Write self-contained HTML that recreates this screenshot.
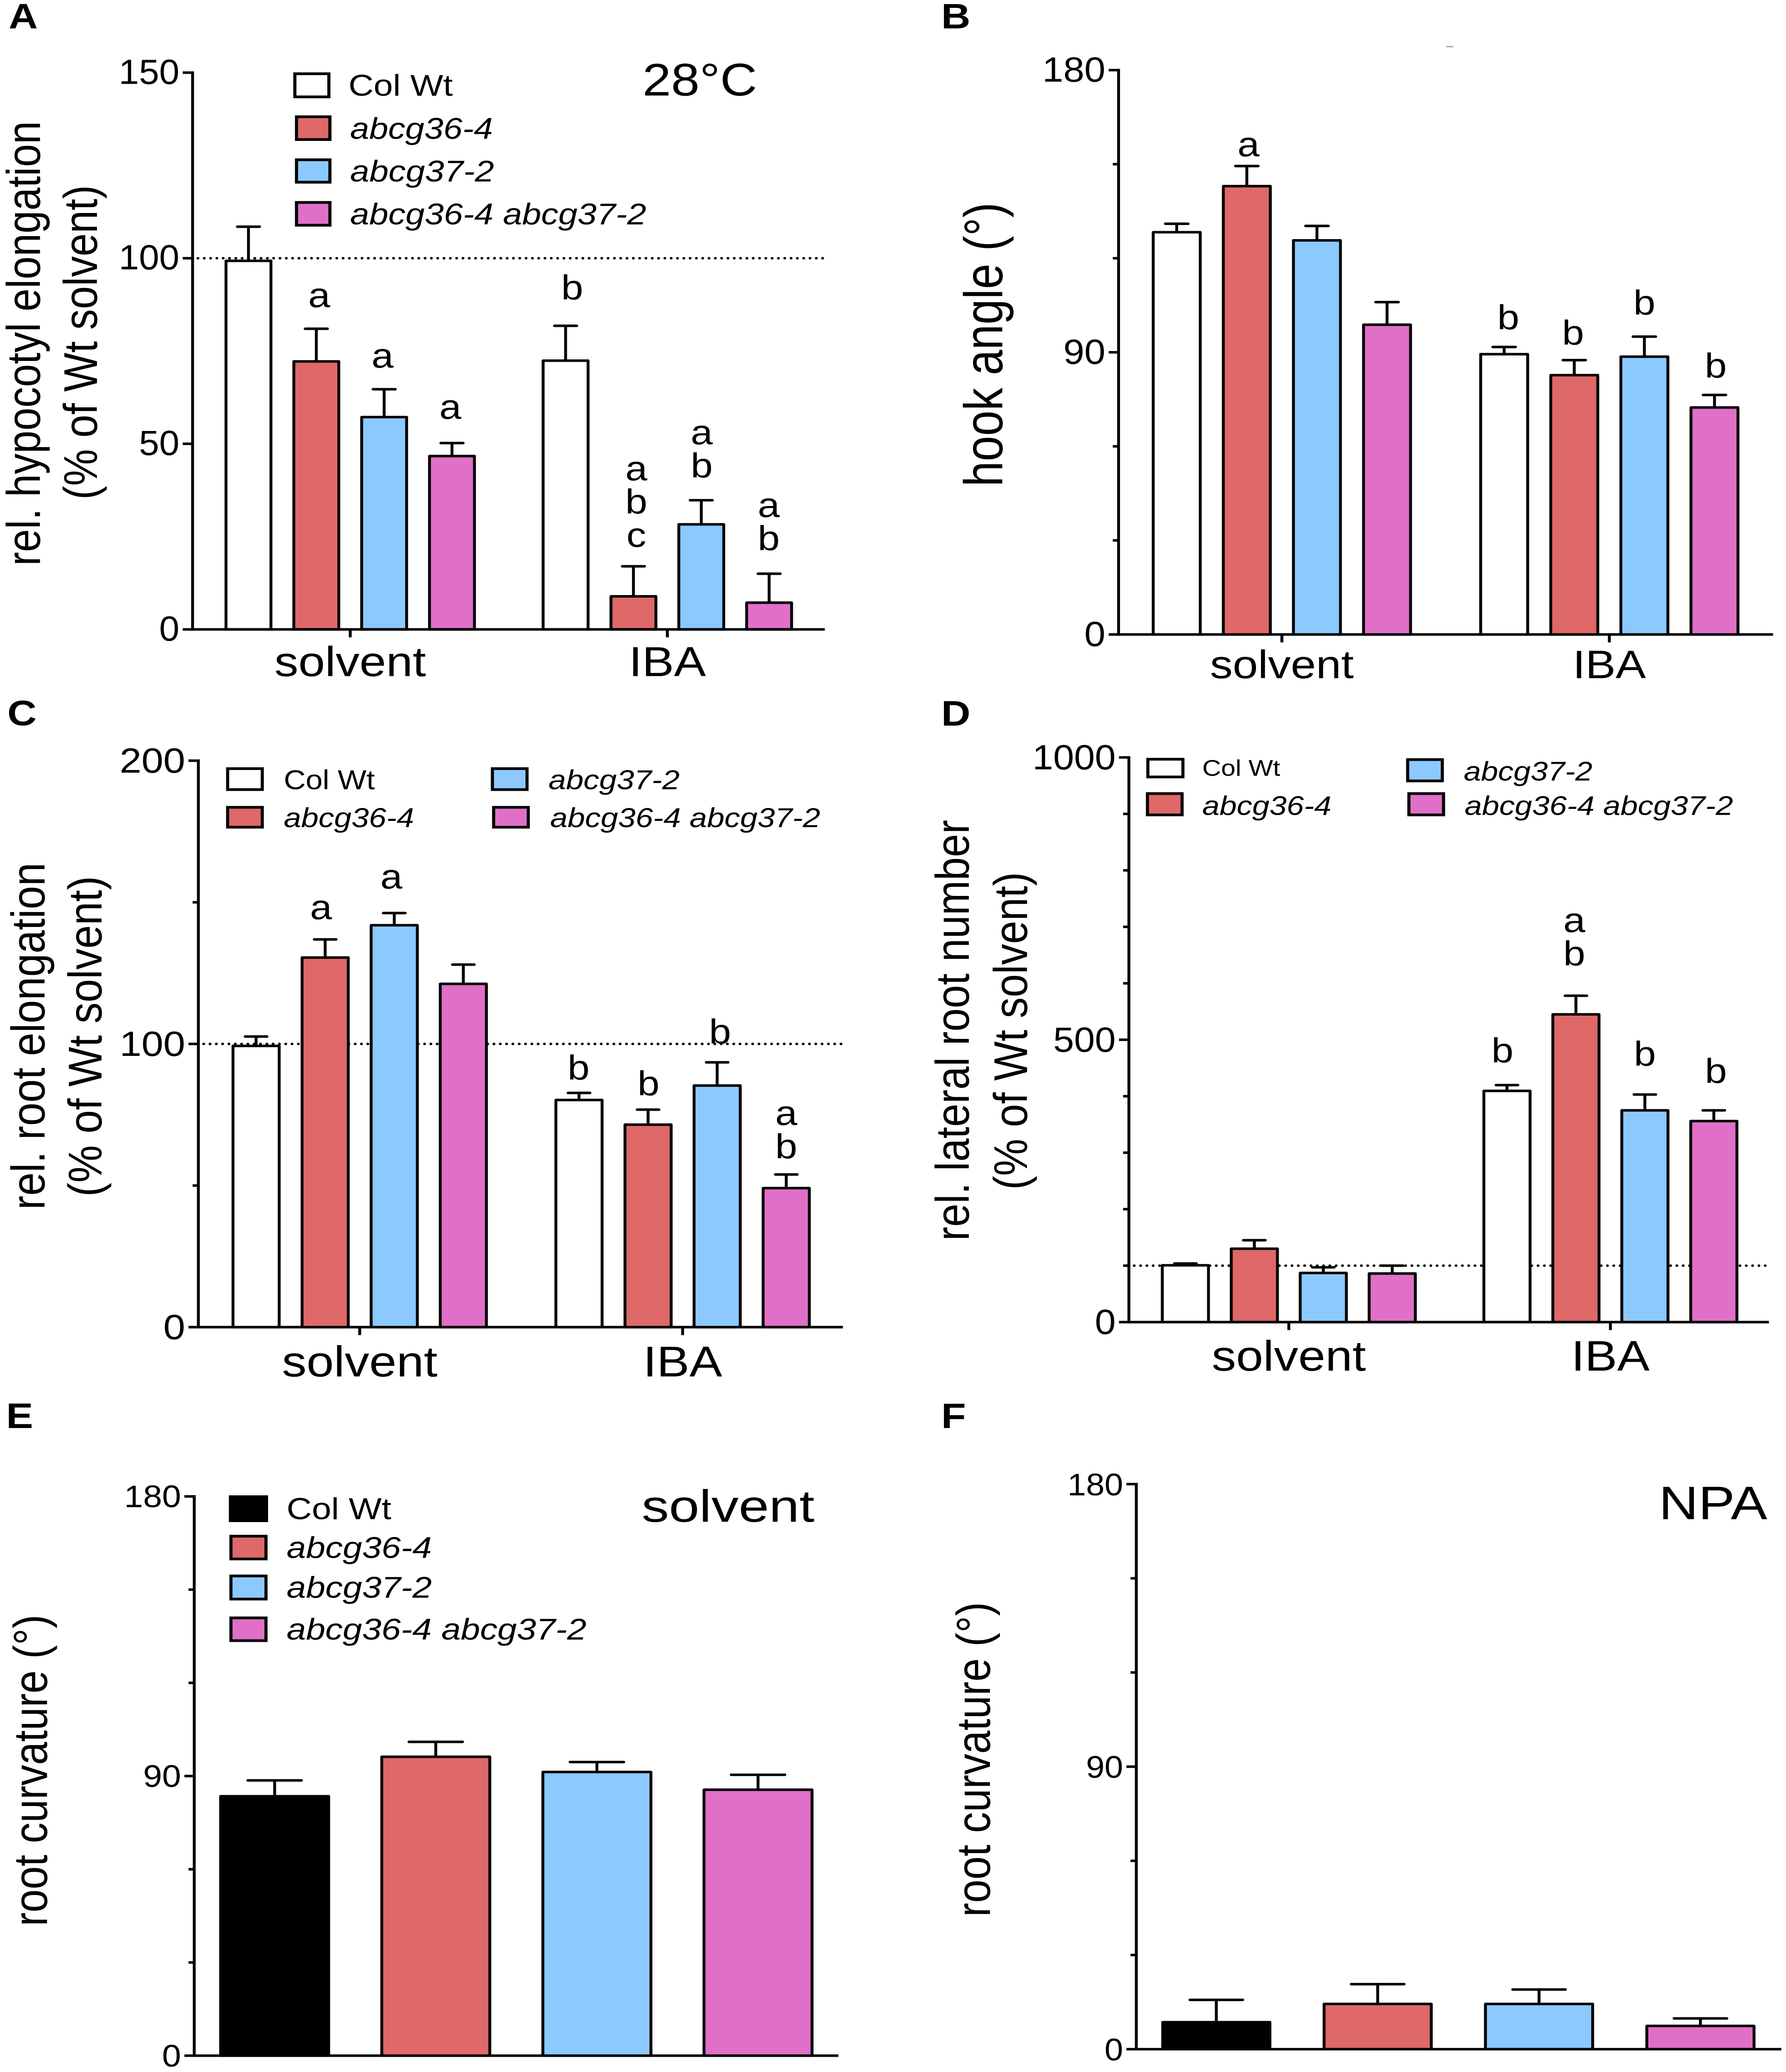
<!DOCTYPE html>
<html lang="en">
<head>
<meta charset="utf-8">
<title>Root and hypocotyl phenotypes of abcg36 and abcg37 mutants</title>
<style>
html,body{margin:0;padding:0;background:#fff;overflow:hidden}
svg{display:block}
text{font-family:"Liberation Sans",Arial,sans-serif;fill:#000}
.pl{font-weight:bold;font-size:98px}
.yt{font-size:115px}
.it{font-style:italic}
</style>
</head>
<body>
<svg id="figure" xmlns="http://www.w3.org/2000/svg" width="4310" height="5704" viewBox="0 0 4310 5704">
<rect x="0" y="0" width="4310" height="5704" fill="#fff"/>
<rect x="3490" y="127" width="17" height="3" fill="#999"/>

<g id="panel-a" transform="matrix(.9952 0 0 .9952 0 0)">
<text class="pl" x="21" y="78.5">A</text>
<text class="yt" transform="translate(97,1565) rotate(-90)" textLength="1230" lengthAdjust="spacingAndGlyphs">rel. hypocotyl elongation</text>
<text class="yt" transform="translate(235,1382) rotate(-90)" textLength="870" lengthAdjust="spacingAndGlyphs">(% of Wt solvent)</text>
<text x="1558" y="264" font-size="127" textLength="278" lengthAdjust="spacingAndGlyphs">28°C</text>
<g>
<rect x="715" y="204" width="82.5" height="64" fill="#fff" stroke="#000" stroke-width="7.6"/>
<text x="845" y="265" font-size="83" textLength="253" lengthAdjust="spacingAndGlyphs">Col Wt</text>
<rect x="719" y="323" width="81" height="63" fill="#DF6868" stroke="#000" stroke-width="7.6"/>
<text class="it" x="849" y="384" font-size="83" textLength="346" lengthAdjust="spacingAndGlyphs">abcg36-4</text>
<rect x="719" y="442" width="81" height="62" fill="#8CC9FF" stroke="#000" stroke-width="7.6"/>
<text class="it" x="849" y="502" font-size="83" textLength="349" lengthAdjust="spacingAndGlyphs">abcg37-2</text>
<rect x="719" y="560" width="81" height="63" fill="#E06FC8" stroke="#000" stroke-width="7.6"/>
<text class="it" x="849" y="621" font-size="83" textLength="718" lengthAdjust="spacingAndGlyphs">abcg36-4 abcg37-2</text>
</g>
</g>

<g id="panel-b" transform="matrix(.9952 0 0 .9952 10.34 0)">
<text class="pl" x="2272" y="78.5">B</text>
<text transform="translate(2420,1346) rotate(-90)" font-size="132" textLength="786" lengthAdjust="spacingAndGlyphs">hook angle (°)</text>
</g>

<g id="panel-c" transform="matrix(.9952 0 0 .9952 0 9.12)">
<text class="pl" x="18" y="1997">C</text>
<text class="yt" transform="translate(108,3337) rotate(-90)" textLength="960" lengthAdjust="spacingAndGlyphs">rel. root elongation</text>
<text class="yt" transform="translate(246,3301) rotate(-90)" textLength="887" lengthAdjust="spacingAndGlyphs">(% of Wt solvent)</text>
<g>
<rect x="552" y="2117" width="84" height="58" fill="#fff" stroke="#000" stroke-width="7.5"/>
<text x="688" y="2174" font-size="75" textLength="221" lengthAdjust="spacingAndGlyphs">Col Wt</text>
<rect x="552" y="2224" width="84" height="55" fill="#DF6868" stroke="#000" stroke-width="7.5"/>
<text class="it" x="688" y="2279" font-size="75" textLength="316" lengthAdjust="spacingAndGlyphs">abcg36-4</text>
<rect x="1194" y="2117" width="84" height="58" fill="#8CC9FF" stroke="#000" stroke-width="7.5"/>
<text class="it" x="1330" y="2174" font-size="75" textLength="318" lengthAdjust="spacingAndGlyphs">abcg37-2</text>
<rect x="1197" y="2224" width="84" height="55" fill="#E06FC8" stroke="#000" stroke-width="7.5"/>
<text class="it" x="1334" y="2279" font-size="75" textLength="655" lengthAdjust="spacingAndGlyphs">abcg36-4 abcg37-2</text>
</g>
</g>

<g id="panel-d" transform="matrix(.9952 0 0 .9952 10.34 9.12)">
<text class="pl" x="2272" y="1998">D</text>
<text class="yt" transform="translate(2339,3423) rotate(-90)" textLength="1164" lengthAdjust="spacingAndGlyphs">rel. lateral root number</text>
<text class="yt" transform="translate(2480,3282) rotate(-90)" textLength="879" lengthAdjust="spacingAndGlyphs">(% of Wt solvent)</text>
<g>
<rect x="2773" y="2091" width="85" height="49" fill="#fff" stroke="#000" stroke-width="7.5"/>
<text x="2905" y="2137" font-size="63" textLength="189" lengthAdjust="spacingAndGlyphs">Col Wt</text>
<rect x="2772" y="2186" width="84" height="59" fill="#DF6868" stroke="#000" stroke-width="7.5"/>
<text class="it" x="2905" y="2245" font-size="74" textLength="313" lengthAdjust="spacingAndGlyphs">abcg36-4</text>
<rect x="3403" y="2092" width="84" height="59" fill="#8CC9FF" stroke="#000" stroke-width="7.5"/>
<text class="it" x="3539" y="2150" font-size="74" textLength="312" lengthAdjust="spacingAndGlyphs">abcg37-2</text>
<rect x="3406" y="2186" width="84" height="59" fill="#E06FC8" stroke="#000" stroke-width="7.5"/>
<text class="it" x="3541" y="2245" font-size="74" textLength="651" lengthAdjust="spacingAndGlyphs">abcg36-4 abcg37-2</text>
</g>
</g>

<g id="panel-e" transform="matrix(.9952 0 0 .9952 0 18.26)">
<text class="pl" x="15" y="3932">E</text>
<text transform="translate(114,5310) rotate(-90)" font-size="116" textLength="862" lengthAdjust="spacingAndGlyphs">root curvature (°)</text>
<text x="1556" y="4191" font-size="125" textLength="419" lengthAdjust="spacingAndGlyphs">solvent</text>
<g>
<rect x="555" y="4118" width="95" height="74" fill="#000"/>
<text x="695" y="4184" font-size="84" textLength="254" lengthAdjust="spacingAndGlyphs">Col Wt</text>
<rect x="560" y="4231" width="85" height="63" fill="#DF6868" stroke="#000" stroke-width="7.5"/>
<text class="it" x="695" y="4291" font-size="83" textLength="352" lengthAdjust="spacingAndGlyphs">abcg36-4</text>
<rect x="560" y="4341" width="85" height="64" fill="#8CC9FF" stroke="#000" stroke-width="7.5"/>
<text class="it" x="695" y="4401" font-size="83" textLength="352" lengthAdjust="spacingAndGlyphs">abcg37-2</text>
<rect x="560" y="4457" width="85" height="63" fill="#E06FC8" stroke="#000" stroke-width="7.5"/>
<text class="it" x="695" y="4517" font-size="83" textLength="727" lengthAdjust="spacingAndGlyphs">abcg36-4 abcg37-2</text>
</g>
</g>

<g id="panel-f" transform="matrix(.9952 0 0 .9952 10.34 18.26)">
<text class="pl" x="2272" y="3932">F</text>
<text transform="translate(2390,5284) rotate(-90)" font-size="116" textLength="871" lengthAdjust="spacingAndGlyphs">root curvature (°)</text>
<text x="4012" y="4184" font-size="130" textLength="263" lengthAdjust="spacingAndGlyphs">NPA</text>
</g>
</svg>

<script>
// ---- shared categories ----
const groupNames = ['solvent', 'IBA'];
const genotypes = ['col-wt', 'abcg36-4', 'abcg37-2', 'double-mutant'];

// ---- panel A: relative hypocotyl elongation ----
const valuesA = [99.3, 72.2, 57.2, 46.7, 72.4, 8.9, 28.3, 7.2];
const errorsA = [9.2, 8.8, 7.5, 3.5, 9.4, 8.1, 6.5, 7.8];
const lettersA = ['', 'a', 'a', 'a', 'b', 'abc', 'ab', 'ab'];
const ticksA = [0, 50, 100, 150];
const minorTicksA = [];
const refLineA = [100];

// ---- panel B: hook angle ----
const valuesB = [128.3, 143, 125.7, 98.8, 89.4, 82.7, 88.6, 72.4];
const errorsB = [2.7, 6.4, 4.6, 7.2, 2.3, 4.8, 6.4, 4];
const lettersB = ['', 'a', '', '', 'b', 'b', 'b', 'b'];
const ticksB = [0, 90, 180];
const minorTicksB = [30, 60, 120, 150];
const refLineB = [];

// ---- panel C: relative root elongation ----
const valuesC = [99.3, 130.5, 141.9, 121.2, 80.2, 71.5, 85.3, 49.1];
const errorsC = [3.3, 6.4, 4.3, 6.8, 2.5, 5.3, 8.2, 4.8];
const lettersC = ['', 'a', 'a', '', 'b', 'b', 'b', 'ab'];
const ticksC = [0, 100, 200];
const minorTicksC = [50, 150];
const refLineC = [100];

// ---- panel D: relative lateral root number ----
const valuesD = [100.6, 130, 87, 86, 409.5, 545, 375, 356];
const errorsD = [3.1, 15, 10, 14, 10.2, 33, 28, 19];
const lettersD = ['', '', '', '', 'b', 'ab', 'b', 'b'];
const ticksD = [0, 500, 1000];
const minorTicksD = [100, 200, 300, 400, 600, 700, 800, 900];
const refLineD = [100];

// ---- panel E: root curvature, solvent ----
const valuesE = [83.5, 96.2, 91.3, 85.6];
const errorsE = [5.1, 4.8, 3.2, 4.8];
const lettersE = ['', '', '', ''];
const ticksE = [0, 90, 180];
const minorTicksE = [30, 60, 120, 150];
const refLineE = [];

// ---- panel F: root curvature, NPA ----
const valuesF = [8.6, 14.4, 14.4, 7.4];
const errorsF = [7.1, 6.3, 4.6, 2.4];
const lettersF = ['', '', '', ''];
const ticksF = [0, 90, 180];
const minorTicksF = [30, 60, 120, 150];
const refLineF = [];

// ---- layout (geometry and style only) ----
const RED = '#DF6868', BLUE = '#8CC9FF', MAGENTA = '#E06FC8';
const openFills = ['#fff', RED, BLUE, MAGENTA];
const solidFills = ['#000', RED, BLUE, MAGENTA];

const panels = [
  {id:'panel-a', values:valuesA, errors:errorsA, letters:lettersA, ticks:ticksA, minor:minorTicksA, ref:refLineA, fills:openFills,
   axisX:467, axisEnd:2000, yTop:201, yBottom:1741, x0:548, pitch:164.5, barW:109, gap:111, capW:61,
   tickFont:97, digitW:49, tickDy:31, groupLabels:true, xFont:116, xLabelY:1870, refStart:480, refEnd:1998,
   letterGap:[0,60,60,67,73,54,63,65], letterDx:[0,7,-4,-4,16,7,1,-1]},
  {id:'panel-b', values:valuesB, errors:errorsB, letters:lettersB, ticks:ticksB, minor:minorTicksB, ref:refLineB, fills:openFills,
   axisX:2702, axisEnd:4289, yTop:194, yBottom:1755, x0:2786, pitch:170, barW:114, gap:114, capW:62,
   tickFont:97, digitW:51, tickDy:32, groupLabels:true, xFont:110, xLabelY:1876,
   letterGap:[0,27,0,0,49,43,61,48], letterDx:[0,4,0,0,10,-3,0,3]},
  {id:'panel-c', values:valuesC, errors:errorsC, letters:lettersC, ticks:ticksC, minor:minorTicksC, ref:refLineC, fills:openFills,
   axisX:481, axisEnd:2044, yTop:2095, yBottom:3662, x0:565, pitch:167.5, barW:112, gap:113, capW:60,
   tickFont:97, digitW:53, tickDy:33, groupLabels:true, xFont:119, xLabelY:3798, refStart:494, refEnd:2042,
   letterGap:[0,56,68,0,37,40,52,45], letterDx:[0,-10,-7,0,-1,1,7,0]},
  {id:'panel-d', values:valuesD, errors:errorsD, letters:lettersD, ticks:ticksD, minor:minorTicksD, ref:refLineD, fills:openFills,
   axisX:2727, axisEnd:4279, yTop:2086, yBottom:3648, x0:2808, pitch:167.2, barW:112, gap:111, capW:60,
   tickFont:97, digitW:50.5, tickDy:33, groupLabels:true, xFont:118, xLabelY:3782, refStart:2740, refEnd:4275,
   letterGap:[0,0,0,0,63,84,80,76], letterDx:[0,0,0,0,-11,-4,0,5]},
  {id:'panel-e', values:valuesE, errors:errorsE, letters:lettersE, ticks:ticksE, minor:minorTicksE, ref:refLineE, fills:solidFills,
   axisX:471, axisEnd:2033, yTop:4121, yBottom:5668, x0:535, pitch:390.7, barW:262, gap:0, capW:137,
   tickFont:86, digitW:46, tickDy:30, groupLabels:false,
   letterGap:[0,0,0,0], letterDx:[0,0,0,0]},
  {id:'panel-f', values:valuesF, errors:errorsF, letters:lettersF, ticks:ticksF, minor:minorTicksF, ref:refLineF, fills:solidFills,
   axisX:2745, axisEnd:4309, yTop:4087, yBottom:5650, x0:2809, pitch:391.3, barW:260, gap:0, capW:135,
   tickFont:86, digitW:45, tickDy:31, groupLabels:false,
   letterGap:[0,0,0,0], letterDx:[0,0,0,0]}
];

const SVG_NS = 'http://www.w3.org/2000/svg';
const STROKE = 7;
const LETTER_FONT = 96;
const LETTER_LINE = 92;
const MAJOR_TICK = 24;
const MINOR_TICK = 14;
const GROUP_TICK = 22;

function addLine(parent, name, x1, y1, x2, y2, width, dash, cap) {
  const el = document.createElementNS(SVG_NS, 'line');
  
  
  el.setAttribute('x1', x1);
  el.setAttribute('y1', y1);
  el.setAttribute('x2', x2);
  el.setAttribute('y2', y2);
  el.setAttribute('stroke', '#000');
  el.setAttribute('stroke-width', width);
  if (dash) el.setAttribute('stroke-dasharray', dash);
  if (cap) el.setAttribute('stroke-linecap', cap);
  parent.appendChild(el);
  return el;
}

function addText(parent, name, x, y, str, size, anchor, length) {
  const el = document.createElementNS(SVG_NS, 'text');
  
  
  el.setAttribute('x', x);
  el.setAttribute('y', y);
  el.setAttribute('font-size', size);
  el.setAttribute('text-anchor', anchor);
  if (length) {
    el.setAttribute('textLength', length);
    el.setAttribute('lengthAdjust', 'spacingAndGlyphs');
  }
  el.textContent = str;
  parent.appendChild(el);
  return el;
}

function addGroup(parent, name) {
  const el = document.createElementNS(SVG_NS, 'g');
  
  
  parent.appendChild(el);
  return el;
}

function drawPanel(p) {
  const root = document.getElementById(p.id);
  const maxV = p.ticks[p.ticks.length - 1];
  const yScale = v => p.yBottom - (v / maxV) * (p.yBottom - p.yTop);
  const perGroup = 4;
  const bandLeft = i => p.x0 + i * p.pitch + (i >= perGroup ? p.gap : 0);
  const bandCenter = i => bandLeft(i) + p.barW / 2;

  // dotted reference line sits behind the bars
  p.ref.forEach(v => {
    addLine(root, 'reference-line-' + v, p.refStart, yScale(v), p.refEnd, yScale(v), 7, '0 15.3', 'round');
  });

  // bars with error whiskers
  const barsG = addGroup(root, 'bars');
  p.values.forEach((v, i) => {
    const geno = genotypes[i % perGroup];
    const groupIdx = Math.floor(i / perGroup);
    const suffix = (p.groupLabels ? groupNames[groupIdx] + '-' : '') + geno;
    const cx = bandCenter(i);
    const topErr = yScale(v + p.errors[i]);
    addLine(barsG, 'error-stem-' + suffix, cx, topErr, cx, yScale(v), 7);
    addLine(barsG, 'error-cap-' + suffix, cx - (p.capW - 7) / 2, topErr, cx + (p.capW - 7) / 2, topErr, 7, null, 'round');
    const bar = document.createElementNS(SVG_NS, 'rect');
    
    
    bar.setAttribute('x', bandLeft(i));
    bar.setAttribute('y', yScale(v));
    bar.setAttribute('width', p.barW);
    bar.setAttribute('height', p.yBottom - yScale(v));
    bar.setAttribute('fill', p.fills[i % perGroup]);
    bar.setAttribute('stroke', '#000');
    bar.setAttribute('stroke-width', STROKE);
    bar.setAttribute('stroke-linejoin', 'round');
    barsG.appendChild(bar);

    // significance letters, stacked upward from the whisker
    const chars = p.letters[i].split('');
    chars.forEach((ch, k) => {
      const baseline = topErr - p.letterGap[i] - (chars.length - 1 - k) * LETTER_LINE;
      addText(barsG, 'significance-letter-' + suffix, cx + p.letterDx[i], baseline, ch, LETTER_FONT, 'middle');
    });
  });

  // axes
  const axisG = addGroup(root, 'axes');
  addLine(axisG, 'y-axis', p.axisX, p.yTop - STROKE / 2, p.axisX, p.yBottom + STROKE / 2, STROKE);
  addLine(axisG, 'x-axis', p.axisX, p.yBottom, p.axisEnd, p.yBottom, STROKE);
  p.ticks.forEach(t => {
    const y = yScale(t);
    const label = String(t);
    addLine(axisG, 'y-tick-' + t, p.axisX - MAJOR_TICK, y, p.axisX, y, STROKE);
    addText(axisG, 'y-tick-label-' + t, p.axisX - 32, y + p.tickDy, label, p.tickFont, 'end', label.length * p.digitW);
  });
  p.minor.forEach(t => {
    const y = yScale(t);
    addLine(axisG, 'y-minor-tick-' + t, p.axisX - MINOR_TICK, y, p.axisX, y, STROKE);
  });
  if (p.groupLabels) {
    groupNames.forEach((g, gi) => {
      const first = gi * perGroup;
      const cx = (bandLeft(first) + bandLeft(first + perGroup - 1) + p.barW) / 2;
      addLine(axisG, 'x-tick-' + g, cx, p.yBottom, cx, p.yBottom + GROUP_TICK, STROKE);
      addText(axisG, 'x-tick-label-' + g, cx, p.xLabelY, g, p.xFont, 'middle');
    });
  }
}

panels.forEach(drawPanel);

// keep the whole figure inside the frame if the viewport is shorter than the page
const figure = document.getElementById('figure');
const viewH = window.innerHeight;
if (viewH >= 3000 && viewH < 5704) {
  figure.setAttribute('height', viewH);
  figure.setAttribute('preserveAspectRatio', 'none');
}
</script>
</body>
</html>
